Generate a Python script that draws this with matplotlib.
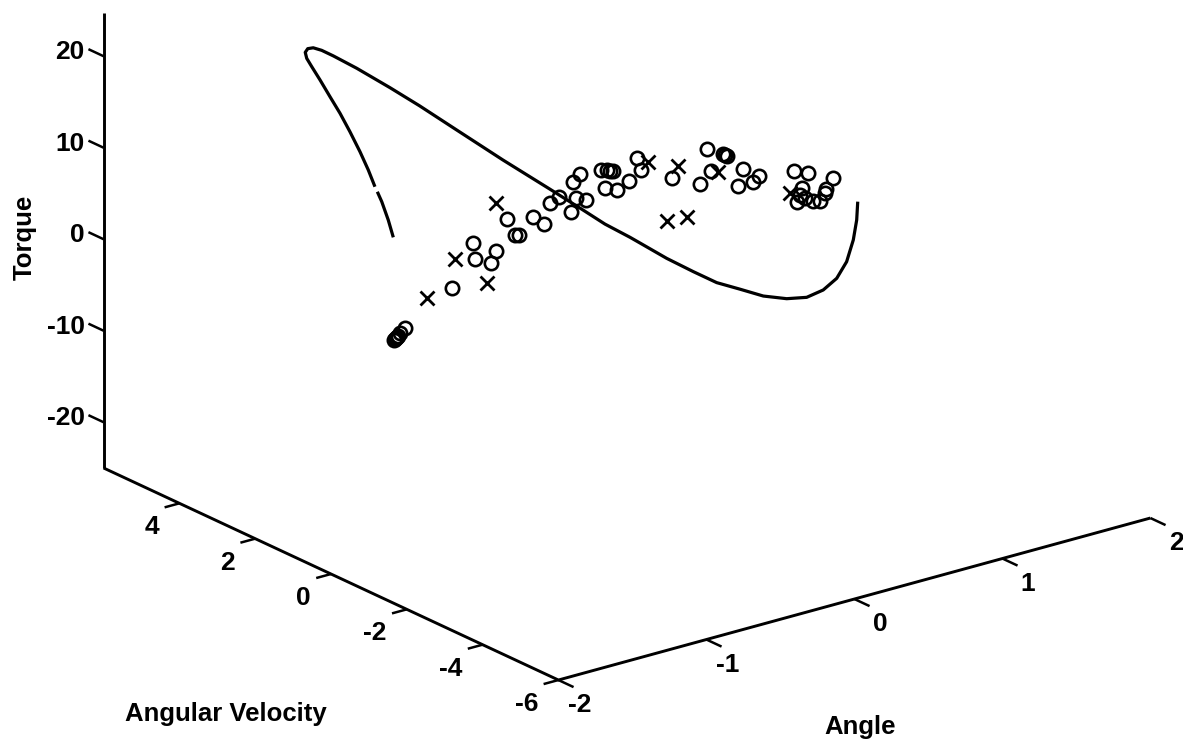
import matplotlib
matplotlib.use('Agg')
import numpy as np
import matplotlib.pyplot as plt

plt.rcParams['font.family'] = ['Liberation Sans', 'DejaVu Sans']

# measured data (depth can't be read from the picture, velocity is held at 0)
circle_angle = [-0.811, -1.041, -1.027, -0.885, -0.919, -1.182, -0.757, -0.730, -0.635, -0.561,
                -0.520, -0.459, -0.378, -0.345, -0.277, -0.365, -0.318,
                -1.500, -1.534, -1.547, -1.554, -1.561, -1.568, -1.574,
                -0.176, -0.135, -0.115, -0.095, -0.149, -0.068, 0.014, 0.068, 0.095, 0.304,
                0.541, 0.649, 0.662, 0.676, 0.493, 0.568, 0.784, 0.892, 0.851, 0.750,
                1.128, 1.223, 1.392, 1.338, 1.182, 1.149, 1.203, 1.257, 1.304, 1.169, 1.345]
circle_torque = [8.53, 6.92, 5.12, 5.36, 4.20, 2.64, 6.54, 6.43, 7.97, 6.88,
                 9.00, 9.38, 7.38, 8.77, 8.25, 10.61, 11.27,
                 -0.33, -0.73, -0.99, -1.08, -1.15, -1.23, -1.32,
                 11.08, 10.90, 10.70, 10.61, 8.99, 8.41, 9.04, 11.32, 9.89, 8.08,
                 10.20, 9.17, 9.01, 8.84, 6.58, 7.68, 6.95, 5.70, 5.22, 5.23,
                 5.20, 4.56, 3.26, 1.86, 3.10, 1.72, 1.92, 1.35, 1.14, 2.40, 2.27]

cross_angle = [-0.885, -1.162, -1.351, -0.946, 0.142, 0.345, 0.615, 0.270, 0.405, 1.101]
cross_torque = [10.60, 5.72, 2.29, 2.14, 10.55, 9.21, 7.36, 3.54, 3.37, 2.91]

# the curve has a small break near its start
curve_angle_a = [-1.579, -1.613, -1.657, -1.687]
curve_torque_a = [9.93, 11.97, 14.17, 15.39]
curve_angle_b = [-1.703, -1.748, -1.804, -1.872, -1.939, -2.007, -2.074, -2.130, -2.164, -2.174,
                 -2.157, -2.120, -2.063, -1.984, -1.826, -1.601, -1.403, -1.151, -0.838, -0.520,
                 -0.297, -0.149, 0.020, 0.088, 0.268, 0.448, 0.606, 0.764, 0.921, 1.079,
                 1.214, 1.326, 1.417, 1.484, 1.529, 1.552, 1.559]
curve_torque_b = [16.01, 18.04, 20.28, 22.77, 25.08, 27.20, 29.32, 31.02, 32.08, 32.78,
                  33.11, 33.04, 32.51, 31.55, 29.50, 26.38, 23.54, 19.77, 15.10, 10.50,
                  7.24, 5.05, 2.86, 1.93, -0.54, -2.79, -4.69, -6.11, -7.55, -8.54,
                  -8.99, -8.68, -7.81, -6.29, -4.11, -2.03, -0.06]

angle_ticks = [-2, -1, 0, 1, 2]
velocity_ticks = [-6, -4, -2, 0, 2, 4]
torque_ticks = [-20, -10, 0, 10, 20]


def project(angle, velocity, torque):
    # oblique projection of the 3d box on to the page
    angle = np.asarray(angle, dtype=float)
    velocity = np.asarray(velocity, dtype=float)
    torque = np.asarray(torque, dtype=float)
    x = 627 + 148 * angle - 37.9 * velocity
    y = 264.25 - 40.5 * angle - 17.67 * velocity - 9.15 * torque
    return x, y


def line3(ax, a, v, t, lw=2.1):
    x, y = project(a, v, t)
    ax.plot(x, y, color='black', lw=lw, solid_capstyle='butt', solid_joinstyle='round')


fig = plt.figure(figsize=(11.83, 7.43), dpi=100)
ax = fig.add_axes([0, 0, 1, 1])
ax.set_xlim(0, 1183)
ax.set_ylim(743, 0)
ax.axis('off')

# box edges
line3(ax, [-2, -2], [6, 6], [-25, 24.7])
line3(ax, [-2, -2, 2], [6, -6, -6], [-25, -25, -25])

# ticks
num_font = dict(fontsize=19, fontweight='bold', va='center', ha='right')
for t in torque_ticks:
    line3(ax, [-2, -2], [6, 6.4], [t, t], lw=1.8)
    x, y = project(-2, 6, t)
    ax.text(x - 19, y - 4, str(t), **num_font)
for v in velocity_ticks:
    line3(ax, [-2, -2.1], [v, v], [-25, -25], lw=1.8)
    x, y = project(-2, v, -25)
    ax.text(x - 20, y + 24, str(v), **num_font)
for a in angle_ticks:
    line3(ax, [a, a], [-6, -6.4], [-25, -25], lw=1.8)
    x, y = project(a, -6, -25)
    ax.text(x + 33, y + 25, str(a), **num_font)

ax.text(25, 237, 'Torque', rotation=90, ha='center', va='center', fontsize=18.5, fontweight='bold')
ax.text(226, 714, 'Angular Velocity', ha='center', va='center', fontsize=18.5, fontweight='bold')
ax.text(860, 727, 'Angle', ha='center', va='center', fontsize=18.5, fontweight='bold')

# data
line3(ax, curve_angle_a, 0, curve_torque_a, lw=2.3)
line3(ax, curve_angle_b, 0, curve_torque_b, lw=2.3)
x, y = project(circle_angle, 0, circle_torque)
ax.plot(x, y, 'o', mfc='none', mec='black', ms=9.6, mew=1.9)
x, y = project(cross_angle, 0, cross_torque)
ax.plot(x, y, 'x', color='black', ms=10.5, mew=2.0)

fig.savefig('out.png', dpi=100)
